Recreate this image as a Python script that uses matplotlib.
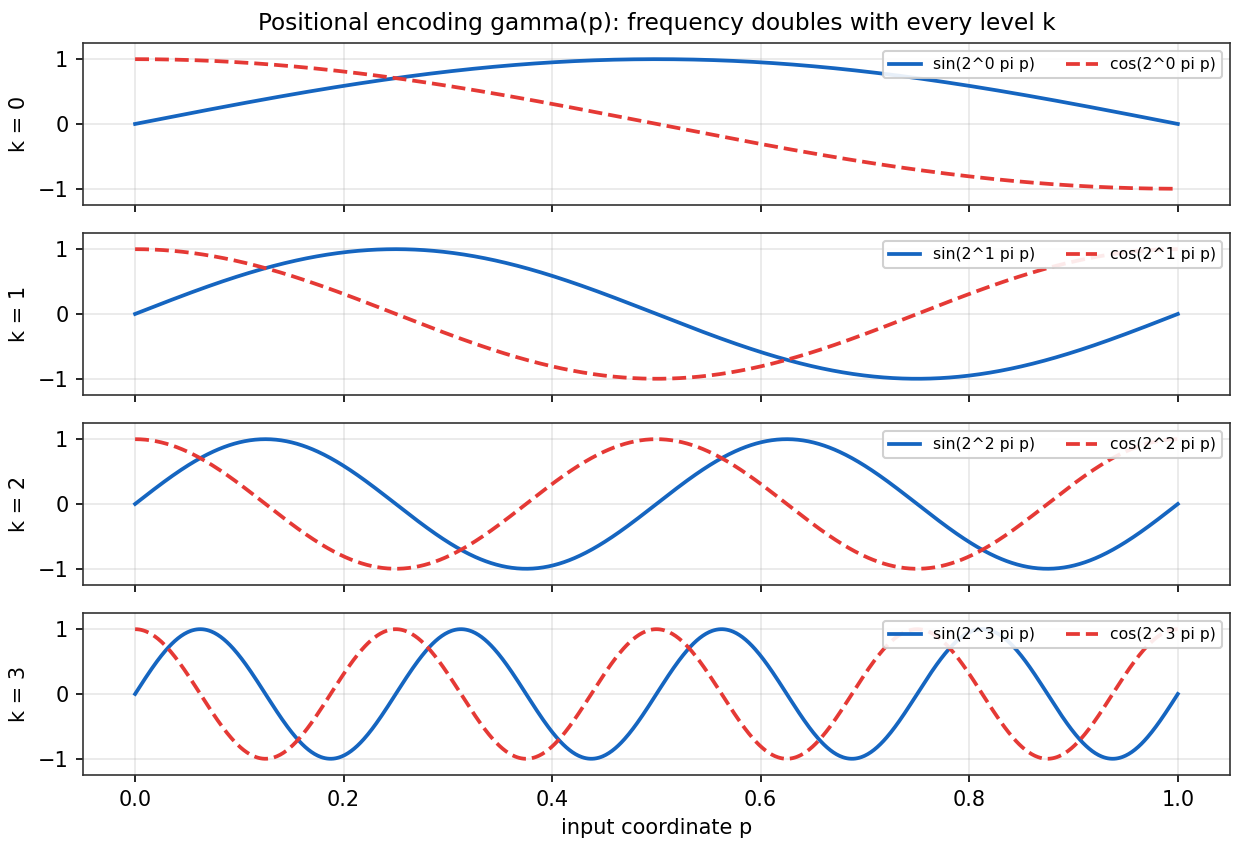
import matplotlib
matplotlib.use("Agg")
import matplotlib.pyplot as plt
import numpy as np

# encoding levels and input range shown in the chart
levels = [0, 1, 2, 3]
p_start = 0.0
p_end = 1.0
n_samples = 1000

sin_color = "#1565c0"
cos_color = "#e53935"

plt.rcParams["axes.edgecolor"] = "#333333"

p = np.linspace(p_start, p_end, n_samples)

fig, axes = plt.subplots(len(levels), 1, sharex=True, figsize=(1244 / 150, 849 / 150), dpi=150)
for ax, k in zip(axes, levels):
    freq = 2 ** k * np.pi
    ax.plot(p, np.sin(freq * p), color=sin_color, lw=1.8, label="sin(2^%d pi p)" % k)
    ax.plot(p, np.cos(freq * p), color=cos_color, lw=1.8, ls="--", label="cos(2^%d pi p)" % k)
    ax.set_ylabel("k = %d" % k)
    ax.set_ylim(-1.25, 1.25)
    ax.set_yticks([-1, 0, 1])
    ax.grid(True, alpha=0.3)
    ax.legend(loc="upper right", ncol=2, fontsize=7.5, framealpha=0.9)

axes[0].set_title("Positional encoding gamma(p): frequency doubles with every level k", fontsize=11.2)
axes[-1].set_xlabel("input coordinate p")

fig.subplots_adjust(left=0.0667, right=0.9887, top=0.9494, bottom=0.0872, hspace=0.173)
fig.savefig("out.png")
